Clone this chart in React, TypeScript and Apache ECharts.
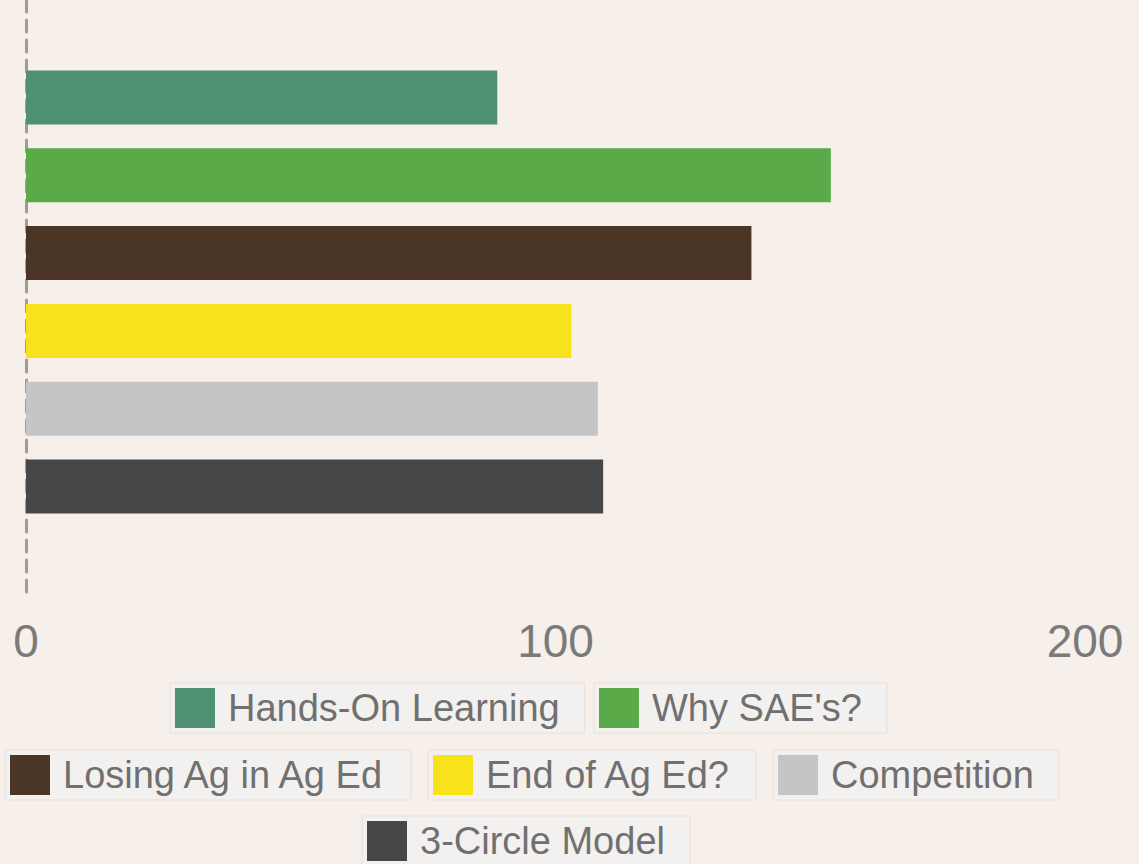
import React, { useEffect, useRef } from "react";
import * as echarts from "echarts";

const categories = ["Topics"];
const seriesNames = [
  "Hands-On Learning",
  "Why SAE's?",
  "Losing Ag in Ag Ed",
  "End of Ag Ed?",
  "Competition",
  "3-Circle Model",
];
const seriesValues = [89, 152, 137, 103, 108, 109];
const seriesColors = ["#4d9172", "#5aaa4a", "#4a3526", "#f8e21c", "#c5c5c5", "#474747"];
const xTicks = [0, 100, 200];

// legend box placement (layout only)
const legendPos = [
  { left: 170, top: 683 },
  { left: 594, top: 683 },
  { left: 5, top: 750 },
  { left: 428, top: 750 },
  { left: 773, top: 750 },
  { left: 362, top: 816 },
];

export default function App() {
  const ref = useRef<HTMLDivElement>(null);
  useEffect(() => {
    if (!ref.current) return;
    const chart = echarts.init(ref.current, null, { renderer: "svg" });
    const font = "'Liberation Sans', Arial, Helvetica, sans-serif";
    const xMin = xTicks[0];
    const xMax = xTicks[xTicks.length - 1];
    chart.setOption({
      animation: false,
      backgroundColor: "#f7efe9",
      textStyle: { fontFamily: font },
      grid: [
        { left: 26, right: 54, top: 0, bottom: 280, containLabel: false },
        { left: 26, right: 54, top: 0, bottom: 266, containLabel: false },
      ],
      xAxis: [
        {
          type: "value",
          gridIndex: 0,
          min: xMin,
          max: xMax,
          interval: 100,
          show: false,
        },
        {
          type: "value",
          gridIndex: 1,
          min: xMin,
          max: xMax,
          interval: 100,
          axisLine: { show: false },
          axisTick: { show: false },
          splitLine: { show: false },
          axisLabel: { fontSize: 46, color: "#7a7a7a", margin: 20, fontFamily: font },
        },
      ],
      yAxis: [
        {
          type: "category",
          gridIndex: 0,
          data: categories,
          inverse: true,
          axisLine: { show: false },
          axisTick: { show: false },
          axisLabel: { show: false },
        },
        {
          type: "category",
          gridIndex: 1,
          data: categories,
          inverse: true,
          axisLine: { show: true, lineStyle: { type: [12, 8], color: "#a39a92", width: 3 } },
          axisTick: { show: false },
          axisLabel: { show: false },
        },
      ],
      legend: seriesNames.map((n, i) => ({
        data: [n],
        left: legendPos[i].left,
        top: legendPos[i].top,
        orient: "horizontal",
        backgroundColor: "#f3f1ef",
        borderColor: "#e6e0db",
        borderWidth: 1,
        borderRadius: 0,
        padding: [5, 25, 5, 5],
        itemWidth: 40,
        itemHeight: 40,
        icon: "rect",
        selectedMode: false,
        textStyle: { fontSize: 38, color: "#707070", fontFamily: font, padding: [0, 0, 0, 8] },
      })),
      series: seriesNames.map((n, i) => ({
        name: n,
        type: "bar",
        xAxisIndex: 0,
        yAxisIndex: 0,
        data: [seriesValues[i]],
        barWidth: 54,
        barGap: "44%",
        itemStyle: { color: seriesColors[i] },
      })),
    });
    return () => chart.dispose();
  }, []);
  return (
    <div
      ref={ref}
      style={{ position: "absolute", left: 0, top: 0, width: 1139, height: 864 }}
    />
  );
}
